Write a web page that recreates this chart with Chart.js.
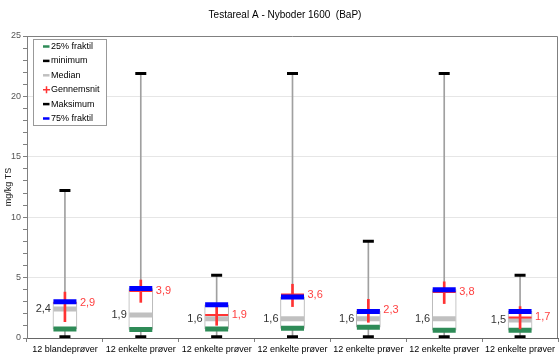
<!DOCTYPE html>
<html>
<head>
<meta charset="utf-8">
<script src="https://cdn.jsdelivr.net/npm/chart.js@4.4.1/dist/chart.umd.min.js"></script>
<style>
html,body{margin:0;padding:0;background:#fff;}
#wrap{width:559px;height:356px;position:relative;}
</style>
</head>
<body>
<div id="wrap"><canvas id="c" width="559" height="356"></canvas></div>
<script>
// ---- data ----
const categories = ["12 blandeprøver","12 enkelte prøver","12 enkelte prøver","12 enkelte prøver","12 enkelte prøver","12 enkelte prøver","12 enkelte prøver"];
const minimum   = [0.1, 0.1, 0.1, 0.1, 0.1, 0.1, 0.1];
const fraktil25 = [0.75, 0.7, 0.75, 0.8, 0.9, 0.65, 0.65];
const median    = [2.4, 1.9, 1.6, 1.6, 1.6, 1.6, 1.5];
const gennemsnit= [2.9, 3.9, 1.9, 3.6, 2.3, 3.8, 1.7];
const meanLow   = [1.35, 2.95, 1.05, 2.6, 1.3, 2.85, 0.75];
const meanHigh  = [3.8, 4.8, 2.8, 4.45, 3.2, 4.65, 2.6];
const fraktil75 = [3.0, 4.1, 2.75, 3.4, 2.2, 4.0, 2.2];
const maksimum  = [12.2, 21.9, 5.2, 21.9, 8.0, 21.9, 5.2];
const yTicks    = [0, 5, 10, 15, 20, 25];
const legendLabels = ["25% fraktil","minimum","Median","Gennemsnit","Maksimum","75% fraktil"];
const titleText = "Testareal A - Nyboder 1600  (BaP)";
const yTitle = "mg/kg TS";

const FONT = '"Liberation Sans", Arial, sans-serif';
const C = {
  green:'#2e8b57', black:'#000000', gray:'#c0c0c0', red:'#ff3333', blue:'#0000ff',
  whisker:'#a0a0a0', boxBorder:'#b4b4b4', axis:'#808080'
};
const fmt = v => v.toFixed(1).replace('.', ',');
const range = (a,b) => a.map((v,i)=>[v,b[i]]);

function pointSet(data, color, radius, width, order){
  return {type:'line', data, showLine:false, pointStyle:'line', pointRadius:radius, pointHoverRadius:radius,
    pointBorderColor:color, pointBackgroundColor:color, pointBorderWidth:width, pointHoverBorderWidth:width, order};
}

const extras = {
  id:'extras',
  afterDraw(chart){
    const {ctx, chartArea:a, scales:{x,y}} = chart;
    ctx.save();
    // plot frame (top/right)
    ctx.strokeStyle = C.axis; ctx.lineWidth = 1;
    ctx.beginPath();
    ctx.moveTo(a.left, a.top+0.5); ctx.lineTo(a.right-0.5, a.top+0.5); ctx.lineTo(a.right-0.5, a.bottom);
    ctx.stroke();
    // title
    ctx.fillStyle = '#000';
    ctx.font = '10px ' + FONT;
    ctx.textAlign = 'center'; ctx.textBaseline = 'middle';
    ctx.fillText(titleText, 285, 15);
    // value labels
    ctx.font = '11px ' + FONT;
    categories.forEach((c,i)=>{
      const cx = x.getPixelForValue(i);
      ctx.textAlign = 'right'; ctx.fillStyle = '#333';
      ctx.fillText(fmt(median[i]), cx-14, y.getPixelForValue(median[i]));
      ctx.textAlign = 'left'; ctx.fillStyle = '#ff4040';
      ctx.fillText(fmt(gennemsnit[i]), cx+15, y.getPixelForValue(gennemsnit[i]));
    });
    // legend
    const lx = 33.5, ly = 39.5, lw = 73, lh = 86;
    ctx.fillStyle = '#fff'; ctx.fillRect(lx, ly, lw, lh);
    ctx.strokeStyle = '#999'; ctx.strokeRect(lx, ly, lw, lh);
    const cols = [C.green, C.black, C.gray, C.red, C.black, C.blue];
    ctx.font = '9px ' + FONT;
    ctx.textAlign = 'left'; ctx.textBaseline = 'middle';
    legendLabels.forEach((t,i)=>{
      const yy = 46.5 + i*14.4;
      ctx.strokeStyle = cols[i];
      if (i === 3) {
        ctx.lineWidth = 1.5;
        ctx.beginPath(); ctx.moveTo(43, yy); ctx.lineTo(50, yy);
        ctx.moveTo(46.5, yy-3.5); ctx.lineTo(46.5, yy+3.5); ctx.stroke();
      } else {
        ctx.lineWidth = 2.5;
        ctx.beginPath(); ctx.moveTo(43, yy); ctx.lineTo(49.5, yy); ctx.stroke();
      }
      ctx.fillStyle = '#000';
      ctx.fillText(t, 51, yy);
    });
    ctx.restore();
  }
};

new Chart(document.getElementById('c'), {
  type:'bar',
  data:{
    labels:categories,
    datasets:[
      {type:'bar', label:'whisker', data:range(minimum, maksimum), backgroundColor:C.whisker, barThickness:1, grouped:false, order:10},
      {type:'bar', label:'box', data:range(fraktil25, fraktil75), backgroundColor:'#fff', borderColor:C.boxBorder, borderWidth:1, borderSkipped:false, barThickness:24, grouped:false, order:9},
      pointSet(fraktil25, C.green, 11.5, 5, 8),
      pointSet(median, C.gray, 11.5, 5, 7),
      {type:'bar', label:'meanci', data:range(meanLow, meanHigh), backgroundColor:C.red, barThickness:2, grouped:false, order:6},
      pointSet(gennemsnit, C.red, 11.5, 2, 5),
      pointSet(fraktil75, C.blue, 11.5, 5, 4),
      pointSet(maksimum, C.black, 5.5, 3, 3),
      pointSet(minimum, C.black, 5.5, 3, 2)
    ]
  },
  options:{
    responsive:false, animation:false,
    layout:{autoPadding:false, padding:{top:36, right:1, left:0, bottom:0}},
    plugins:{legend:{display:false}, tooltip:{enabled:false}, title:{display:false}},
    scales:{
      x:{
        offset:true,
        grid:{drawOnChartArea:false, tickLength:4, tickColor:C.axis, offset:true},
        border:{color:'#666'},
        ticks:{color:'#000', font:{size:9, family:FONT}, padding:2, maxRotation:0, autoSkip:false},
        afterFit(s){ s.height = 18; s.paddingLeft = 0; s.paddingRight = 0; }
      },
      y:{
        min:0, max:25,
        grid:{
          color:ctx => (ctx.tick && ctx.tick.value % 5 === 0 && ctx.tick.value > 0 && ctx.tick.value < 25) ? '#e6e6e6' : 'rgba(0,0,0,0)',
          tickColor:C.axis, tickLength:4
        },
        border:{color:C.axis},
        ticks:{stepSize:1, autoSkip:false, color:'#555', padding:2,
          font:{size:9, family:FONT},
          callback:v => yTicks.includes(v) ? String(v) : ''},
        title:{display:true, text:yTitle, color:'#222', padding:{top:3,bottom:0},
          font:{size:9, family:FONT}},
        afterFit(s){ s.width = 27; s.paddingTop = 0; s.paddingBottom = 0; }
      }
    }
  },
  plugins:[extras]
});
</script>
</body>
</html>
